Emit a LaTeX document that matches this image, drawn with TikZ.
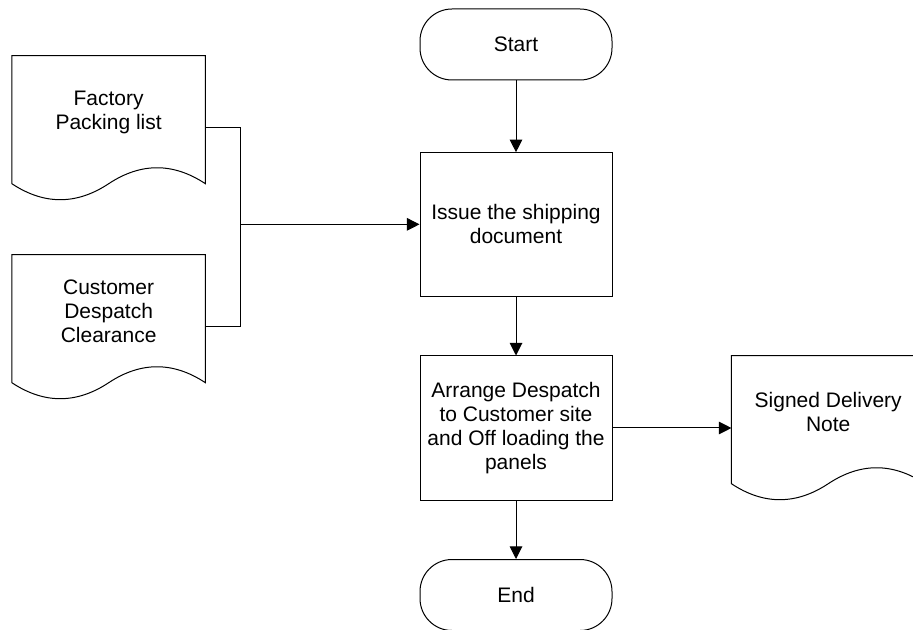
\documentclass[tikz,border=0pt]{standalone}
\usepackage{fontspec}
\setmainfont{Liberation Sans}
\usetikzlibrary{arrows.meta,calc}
\newcommand\diafont{\fontsize{15.75pt}{18pt}\selectfont}
\tikzset{
  conn/.style={line width=0.75pt, draw=black},
  arr/.style={conn, -{Triangle[length=9.5pt,width=9.5pt]}},
  terminal/.style={draw=black, line width=0.75pt, rectangle, rounded corners=24pt,
    minimum width=144pt, minimum height=53.25pt, inner sep=0pt, align=center, font=\diafont},
  procbox/.style={draw=black, line width=0.75pt, rectangle, minimum width=144pt,
    inner sep=0pt, align=center, font=\diafont},
  docnode/.style={rectangle, minimum width=144.75pt, minimum height=84pt,
    inner sep=0pt, align=center, font=\diafont},
  docline/.style={line width=0.75pt, draw=black, line join=miter}
}
\newcommand\docoutline[1]{%
  \draw[docline] (#1.north west) -- (#1.north east) -- ([yshift=-11.6pt]#1.south east)
    .. controls +(-32.2,-21.3) and +(32.2,-21.3) .. ([yshift=-11.6pt]#1.south)
    .. controls +(-32.2,21.3) and +(32.2,21.3) .. ([yshift=-11.6pt]#1.south west) -- cycle;}
\begin{document}
\begin{tikzpicture}[x=0.75pt, y=-0.75pt]
\useasboundingbox (0,0) rectangle (913,630);
\clip (0,0) rectangle (913,630);

\node[terminal] (start) at (516,44.5) {Start};
\node[procbox, minimum height=107.5pt] (issue) at (516,224.35) {Issue the shipping\\document};
\node[procbox, minimum height=108pt] (arrange) at (516,428) {Arrange Despatch\\to Customer site\\and Off loading the\\panels};
\node[terminal] (end) at (516,595) {End};

\node[docnode] (fac) at (108.65,112) {Factory\\Packing list};
\node[docnode] (cus) at (108.65,311) {Customer\\Despatch\\Clearance};
\node[docnode] (sdn) at (828.2,412) {Signed Delivery\\Note};
\docoutline{fac}
\docoutline{cus}
\docoutline{sdn}

\coordinate (j) at (240,225);
\coordinate (fa) at ([yshift=-12pt]fac.east);
\coordinate (cu) at ([yshift=-12pt]cus.east);

\draw[arr] (start.south) -- (issue.north);
\draw[arr] (issue.south) -- (arrange.north);
\draw[arr] (arrange.south) -- (end.north);
\draw[conn] (fa) -- (fa -| j) -- (cu -| j) -- (cu);
\draw[arr] (j |- issue.west) -- (issue.west);
\draw[arr] (arrange.east) -- (arrange.east -| sdn.west);
\end{tikzpicture}
\end{document}
